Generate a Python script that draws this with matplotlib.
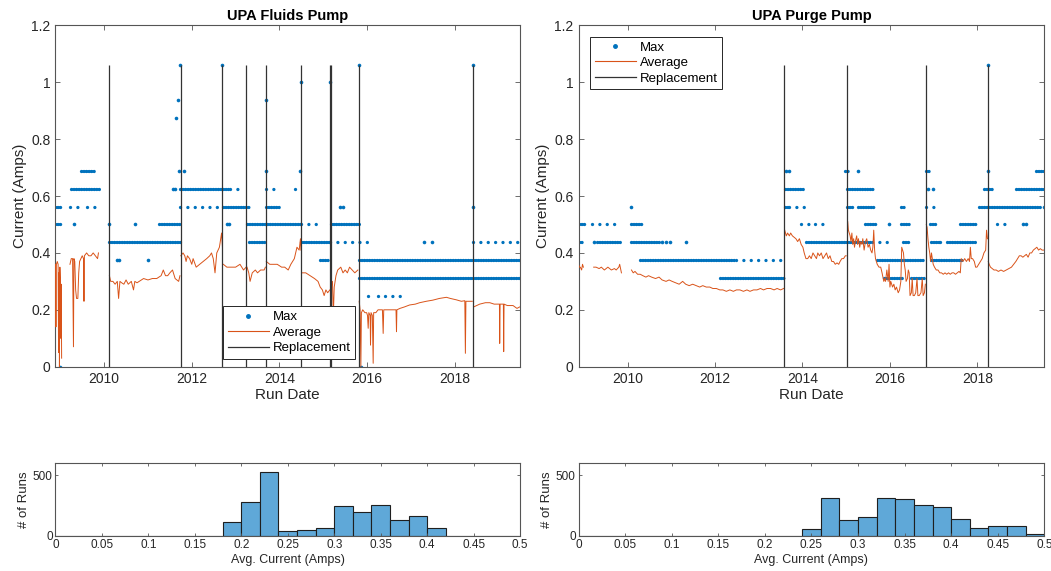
import matplotlib
matplotlib.use("Agg")
import matplotlib.pyplot as plt
from matplotlib.lines import Line2D

nan = float("nan")

BLUE = "#0072BD"
ORANGE = "#D95319"
REPL = "#333333"
AXC = "#262626"

plt.rcParams["font.family"] = ["Liberation Sans", "DejaVu Sans"]

# ---------------- UPA Fluids Pump ----------------
fluids_avg_t = [
    2008.89, 2008.90, 2008.91, 2008.93, 2008.95, 2008.96, 2008.97, 2008.98, 2008.99, 2009.00, 2009.01, 2009.02, 2009.03, nan,
    2009.22, 2009.25, 2009.28, 2009.30, 2009.31, 2009.33, 2009.35, 2009.37, 2009.40, 2009.42, 2009.44, 2009.47, 2009.50,
    2009.53, 2009.54, 2009.55, 2009.60, 2009.65, 2009.70, 2009.75, 2009.80, 2009.85, 2009.87, nan,
    2010.12, 2010.15, 2010.20, 2010.25, 2010.30, 2010.33, 2010.36, 2010.40, 2010.45, 2010.50, 2010.55, 2010.62, 2010.67,
    2010.70, 2010.75, 2010.80, 2010.90, 2011.00, 2011.10, 2011.20, 2011.30, 2011.35, 2011.40, 2011.45, 2011.50, 2011.56,
    2011.62, 2011.70, 2011.73, nan,
    2011.75, 2011.80, 2011.84, 2011.87, 2011.90, 2011.95, 2012.00, 2012.03, 2012.10, 2012.18, 2012.26, 2012.34, 2012.41,
    2012.45, 2012.49, 2012.53, 2012.57, 2012.63, 2012.68, 2012.70, nan,
    2012.72, 2012.80, 2012.90, 2013.00, 2013.10, 2013.18, 2013.24, nan,
    2013.26, 2013.30, 2013.33, 2013.38, 2013.45, 2013.50, 2013.57, 2013.65, 2013.68, nan,
    2013.70, 2013.78, 2013.86, 2013.95, 2014.05, 2014.12, 2014.20, 2014.26, 2014.34, 2014.40, 2014.45, 2014.48, 2014.49, nan,
    2014.51, 2014.60, 2014.70, 2014.80, 2014.88, 2014.93, 2014.98, 2015.02, 2015.06, 2015.10, 2015.15, nan,
    2015.18, 2015.21, 2015.23, 2015.25, 2015.29, 2015.33, 2015.40, 2015.45, 2015.50, 2015.55, 2015.60, 2015.66, 2015.72,
    2015.79, nan,
    2015.82, 2015.84, 2015.858, 2015.87, 2015.90, 2015.95, 2015.99, 2016.01, 2016.025, 2016.04, 2016.07, 2016.078, 2016.09,
    2016.12, 2016.139, 2016.15, 2016.20, 2016.25, 2016.29, 2016.35, 2016.367, 2016.38, 2016.45, 2016.52, 2016.60, 2016.66,
    2016.671, 2016.68, 2016.75, 2016.85, 2016.97, 2017.10, 2017.20, 2017.35, 2017.50, 2017.65, 2017.81, 2017.90, 2018.04,
    2018.15, 2018.23, 2018.243, 2018.255, 2018.30, 2018.38, 2018.40, nan,
    2018.43, 2018.50, 2018.57, 2018.70, 2018.80, 2018.90, 2019.02, 2019.026, 2019.035, 2019.11, 2019.117, 2019.125,
    2019.20, 2019.33, 2019.42, 2019.48,
]
fluids_avg_v = [
    0.36, 0.14, 0.36, 0.37, 0.36, 0.05, 0.33, 0.00, 0.35, 0.30, 0.10, 0.29, 0.03, nan,
    0.36, 0.38, 0.38, 0.07, 0.38, 0.37, 0.27, 0.24, 0.24, 0.33, 0.37, 0.38, 0.39,
    0.38, 0.23, 0.39, 0.40, 0.39, 0.39, 0.40, 0.39, 0.38, 0.40, nan,
    0.32, 0.30, 0.30, 0.29, 0.30, 0.24, 0.30, 0.295, 0.29, 0.305, 0.29, 0.30, 0.27,
    0.30, 0.295, 0.30, 0.31, 0.305, 0.31, 0.31, 0.32, 0.34, 0.32, 0.32, 0.33, 0.34,
    0.31, 0.30, 0.32, nan,
    0.39, 0.40, 0.39, 0.37, 0.39, 0.38, 0.36, 0.38, 0.35, 0.36, 0.37, 0.38, 0.39,
    0.40, 0.38, 0.33, 0.40, 0.42, 0.47, 0.42, nan,
    0.36, 0.35, 0.35, 0.35, 0.36, 0.34, 0.35, nan,
    0.35, 0.33, 0.30, 0.33, 0.34, 0.33, 0.34, 0.34, 0.35, nan,
    0.37, 0.36, 0.36, 0.36, 0.35, 0.35, 0.34, 0.36, 0.38, 0.42, 0.41, 0.45, 0.41, nan,
    0.33, 0.33, 0.32, 0.31, 0.30, 0.28, 0.27, 0.25, 0.27, 0.26, 0.27, nan,
    0.28, 0.30, 0.18, 0.28, 0.32, 0.34, 0.35, 0.33, 0.34, 0.33, 0.35, 0.34, 0.33,
    0.34, nan,
    0.23, 0.20, 0.00, 0.19, 0.20, 0.19, 0.19, 0.18, 0.135, 0.19, 0.18, 0.076, 0.19,
    0.18, 0.012, 0.19, 0.19, 0.20, 0.20, 0.20, 0.117, 0.20, 0.20, 0.20, 0.20, 0.20,
    0.123, 0.20, 0.205, 0.21, 0.217, 0.22, 0.225, 0.23, 0.234, 0.24, 0.244, 0.24, 0.235,
    0.23, 0.232, 0.047, 0.23, 0.23, 0.23, 0.23, nan,
    0.21, 0.215, 0.22, 0.225, 0.225, 0.22, 0.22, 0.082, 0.22, 0.22, 0.053, 0.22,
    0.215, 0.215, 0.205, 0.21,
]

# max current runs: (start, end, level); dense = every run logged, sparse = scattered runs
fluids_max_dense = [
    (2009.25, 2009.89, 0.625), (2011.72, 2012.88, 0.625),
    (2009.48, 2009.79, 0.6875),
    (2008.89, 2009.04, 0.5625), (2012.72, 2013.31, 0.5625), (2013.69, 2014.03, 0.5625),
    (2008.89, 2009.02, 0.5), (2011.25, 2011.72, 0.5), (2013.26, 2014.50, 0.5), (2015.18, 2015.82, 0.5),
    (2010.11, 2011.73, 0.4375), (2013.30, 2013.69, 0.4375), (2014.50, 2015.15, 0.4375),
    (2014.92, 2015.16, 0.375), (2015.82, 2019.49, 0.375),
    (2015.82, 2019.49, 0.3125),
]
fluids_max_sparse = [
    (2012.88, 2013.20, 0.625), (2013.69, 2013.97, 0.625), (2014.35, 2014.49, 0.625),
    (2009.21, 2009.52, 0.5625), (2009.62, 2009.87, 0.5625), (2011.74, 2012.72, 0.5625),
    (2014.50, 2014.89, 0.5),
    (2015.16, 2016.07, 0.4375), (2018.42, 2019.49, 0.4375),
    (2016.02, 2016.17, 0.25), (2016.25, 2016.33, 0.25), (2016.42, 2016.77, 0.25),
]
fluids_max_t = [2011.565, 2011.627, 2011.70, 2011.83, 2013.69, 2014.48, 2011.69, 2013.69, 2011.64,
                2011.72, 2012.68, 2015.81, 2018.42, 2014.50, 2015.16, 2015.39, 2015.44, 2018.42,
                2009.31, 2010.11, 2010.70, 2012.80, 2012.85, 2010.29, 2010.35, 2011.01, 2017.31, 2017.47,
                2008.99, 2015.87]
fluids_max_v = [0.625, 0.625, 0.6875, 0.6875, 0.6875, 0.6875, 0.9375, 0.9375, 0.875,
                1.0625, 1.0625, 1.0625, 1.0625, 1.0, 1.0, 0.5625, 0.5625, 0.5625,
                0.5, 0.5, 0.5, 0.5, 0.5, 0.375, 0.375, 0.375, 0.4375, 0.4375,
                0.0, 0.0]
fluids_replacements = [2010.114, 2011.743, 2012.70, 2013.247, 2013.687, 2014.497, 2015.153, 2015.168,
                       2015.81, 2018.417]

# ---------------- UPA Purge Pump ----------------
purge_avg_t = [
    2008.877, 2008.90, 2008.92, 2008.95, 2008.97, 2008.99, nan,
    2009.225, 2009.28, 2009.35, 2009.40, 2009.47, 2009.55, 2009.63, 2009.70, 2009.74, 2009.80, 2009.82, 2009.86, nan,
    2010.09, 2010.13, 2010.17, 2010.23, 2010.29, 2010.35, 2010.42, 2010.48, 2010.55, 2010.64, 2010.72, 2010.79,
    2010.88, 2010.95, 2011.02, 2011.10, 2011.18, 2011.26, 2011.33, 2011.41, 2011.49, 2011.57, 2011.65, 2011.72,
    2011.80, 2011.88, 2011.95, 2012.03, 2012.11, 2012.18, 2012.26, 2012.34, 2012.42, 2012.49, 2012.57, 2012.65,
    2012.73, 2012.80, 2012.88, 2012.96, 2013.04, 2013.11, 2013.19, 2013.27, 2013.35, 2013.42, 2013.50, 2013.57, nan,
    2013.594, 2013.63, 2013.66, 2013.70, 2013.73, 2013.77, 2013.81, 2013.85, 2013.89, 2013.93, 2013.97, 2014.01,
    2014.04, 2014.08, 2014.12, 2014.16, 2014.20, 2014.24, 2014.28, 2014.32, 2014.35, 2014.39, 2014.43, 2014.47,
    2014.51, 2014.55, 2014.59, 2014.63, 2014.67, 2014.71, 2014.75, 2014.79, 2014.83, 2014.86, 2014.90, 2014.94,
    2014.98, 2015.00, nan,
    2015.035, 2015.05, 2015.07, 2015.09, 2015.11, 2015.13, 2015.15, 2015.17, 2015.19, 2015.21, 2015.24, 2015.26,
    2015.28, 2015.31, 2015.33, 2015.36, 2015.38, 2015.41, 2015.44, 2015.47, 2015.50, 2015.53, 2015.56, 2015.59,
    2015.61, 2015.63, 2015.65, 2015.67, 2015.71, 2015.75, 2015.79, 2015.82, 2015.86, 2015.88, 2015.90, 2015.93,
    2015.96, 2015.98, 2016.00, 2016.02, 2016.06, 2016.09, 2016.12, 2016.15, 2016.19, 2016.22, 2016.25, 2016.27,
    2016.29, 2016.31, 2016.33, 2016.35, 2016.37, 2016.40, 2016.42, 2016.44, 2016.46, 2016.49, 2016.51, 2016.53,
    2016.56, 2016.59, 2016.62, 2016.64, 2016.67, 2016.71, 2016.74, 2016.76, 2016.79, 2016.81, nan,
    2016.832, 2016.85, 2016.87, 2016.89, 2016.91, 2016.93, 2016.95, 2016.97, 2016.99, 2017.02, 2017.06, 2017.10,
    2017.14, 2017.18, 2017.22, 2017.26, 2017.30, 2017.34, 2017.38, 2017.42, 2017.46, 2017.50, 2017.54, 2017.58,
    2017.61, 2017.63, 2017.67, 2017.71, 2017.75, 2017.79, 2017.82, 2017.84, 2017.86, 2017.89, 2017.93, 2017.96,
    2017.99, 2018.03, 2018.07, 2018.11, 2018.15, 2018.19, 2018.21, 2018.23, nan,
    2018.25, 2018.27, 2018.30, 2018.34, 2018.38, 2018.43, 2018.48, 2018.54, 2018.60, 2018.66, 2018.72, 2018.78,
    2018.83, 2018.88, 2018.92, 2018.96, 2019.00, 2019.04, 2019.08, 2019.12, 2019.16, 2019.20, 2019.24, 2019.28,
    2019.32, 2019.36, 2019.40, 2019.44, 2019.48, 2019.52,
]
purge_avg_v = [
    0.36, 0.35, 0.35, 0.34, 0.36, 0.35, nan,
    0.35, 0.35, 0.345, 0.35, 0.34, 0.35, 0.34, 0.345, 0.34, 0.35, 0.36, 0.33, nan,
    0.34, 0.33, 0.335, 0.325, 0.325, 0.32, 0.315, 0.32, 0.315, 0.31, 0.315, 0.305,
    0.30, 0.305, 0.30, 0.295, 0.29, 0.30, 0.29, 0.285, 0.29, 0.285, 0.28, 0.285,
    0.28, 0.28, 0.275, 0.275, 0.27, 0.27, 0.265, 0.27, 0.265, 0.27, 0.27, 0.265,
    0.27, 0.265, 0.27, 0.27, 0.275, 0.27, 0.275, 0.275, 0.27, 0.275, 0.27, 0.275, nan,
    0.48, 0.46, 0.47, 0.46, 0.47, 0.46, 0.455, 0.45, 0.44, 0.45, 0.43, 0.42,
    0.40, 0.38, 0.38, 0.39, 0.38, 0.40, 0.39, 0.38, 0.40, 0.39, 0.40, 0.38,
    0.39, 0.40, 0.38, 0.39, 0.37, 0.37, 0.36, 0.365, 0.36, 0.37, 0.38, 0.38,
    0.39, 0.39, nan,
    0.51, 0.48, 0.47, 0.46, 0.44, 0.47, 0.43, 0.45, 0.42, 0.44, 0.46, 0.43,
    0.45, 0.42, 0.44, 0.43, 0.45, 0.41, 0.44, 0.45, 0.42, 0.43, 0.41, 0.40,
    0.42, 0.48, 0.41, 0.38, 0.36, 0.35, 0.35, 0.33, 0.30, 0.31, 0.30, 0.34,
    0.30, 0.36, 0.28, 0.30, 0.28, 0.29, 0.27, 0.28, 0.26, 0.27, 0.30, 0.42,
    0.41, 0.40, 0.36, 0.34, 0.30, 0.31, 0.34, 0.33, 0.25, 0.26, 0.31, 0.25,
    0.25, 0.26, 0.31, 0.25, 0.25, 0.26, 0.31, 0.25, 0.26, 0.29, nan,
    0.50, 0.49, 0.45, 0.42, 0.40, 0.37, 0.40, 0.38, 0.36, 0.35, 0.34, 0.34,
    0.33, 0.33, 0.325, 0.33, 0.325, 0.33, 0.325, 0.33, 0.33, 0.325, 0.33, 0.335,
    0.33, 0.38, 0.37, 0.38, 0.37, 0.38, 0.37, 0.42, 0.38, 0.38, 0.37, 0.35,
    0.35, 0.36, 0.37, 0.38, 0.40, 0.41, 0.48, 0.45, nan,
    0.37, 0.36, 0.35, 0.345, 0.34, 0.34, 0.335, 0.34, 0.335, 0.34, 0.345, 0.35,
    0.36, 0.37, 0.38, 0.39, 0.39, 0.385, 0.39, 0.395, 0.385, 0.40, 0.40, 0.41,
    0.415, 0.42, 0.41, 0.415, 0.41, 0.41,
]
purge_max_dense = [
    (2008.88, 2009.05, 0.5), (2010.09, 2010.33, 0.5), (2015.43, 2015.70, 0.5), (2016.25, 2016.44, 0.5),
    (2016.91, 2017.06, 0.5), (2017.61, 2017.96, 0.5),
    (2008.88, 2009.01, 0.4375), (2009.30, 2009.86, 0.4375), (2010.09, 2010.71, 0.4375), (2014.08, 2015.01, 0.4375),
    (2015.01, 2015.60, 0.4375), (2016.29, 2016.44, 0.4375), (2016.95, 2017.15, 0.4375), (2017.30, 2017.95, 0.4375),
    (2010.29, 2012.49, 0.375), (2015.71, 2016.79, 0.375), (2016.95, 2017.64, 0.375),
    (2012.11, 2013.58, 0.3125), (2015.86, 2016.29, 0.3125), (2016.48, 2016.80, 0.3125),
    (2013.59, 2013.70, 0.5625), (2015.01, 2015.15, 0.5625), (2015.28, 2015.64, 0.5625), (2016.25, 2016.37, 0.5625),
    (2018.03, 2019.45, 0.5625),
    (2013.59, 2014.01, 0.625), (2015.01, 2015.63, 0.625), (2018.15, 2018.38, 0.625), (2018.89, 2019.53, 0.625),
    (2014.98, 2015.09, 0.6875), (2016.82, 2016.93, 0.6875), (2019.35, 2019.53, 0.6875),
]
purge_max_sparse = [
    (2009.19, 2009.86, 0.5), (2013.96, 2014.16, 0.5), (2014.28, 2014.55, 0.5), (2018.46, 2018.77, 0.5),
    (2015.60, 2016.06, 0.4375), (2017.15, 2017.30, 0.4375),
    (2012.49, 2013.54, 0.375),
    (2013.70, 2014.08, 0.5625), (2016.83, 2017.06, 0.5625),
]
purge_max_t = [2015.98, 2019.04, 2019.12, 2010.79, 2010.88, 2010.96, 2011.33, 2009.24, 2010.09,
               2016.87, 2016.99, 2013.62, 2013.70, 2015.28, 2018.234, 2018.234, 2019.52]
purge_max_v = [0.5, 0.5, 0.5, 0.4375, 0.4375, 0.4375, 0.4375, 0.4375, 0.5625,
               0.625, 0.625, 0.6875, 0.6875, 0.6875, 0.6875, 1.0625, 0.5625]
purge_replacements = [2013.586, 2015.012, 2016.816, 2018.234]

# ---------------- histograms of average current ----------------
bin_left = [0.00, 0.02, 0.04, 0.06, 0.08, 0.10, 0.12, 0.14, 0.16, 0.18, 0.20, 0.22, 0.24,
            0.26, 0.28, 0.30, 0.32, 0.34, 0.36, 0.38, 0.40, 0.42, 0.44, 0.46, 0.48]
fluids_counts = [3, 2, 2, 2, 3, 2, 2, 2, 4, 113, 282, 525, 42,
                 51, 65, 246, 195, 257, 133, 167, 68, 3, 2, 1, 0]
purge_counts = [0, 0, 0, 0, 0, 0, 0, 0, 0, 0, 0, 0, 60,
                309, 134, 158, 314, 303, 254, 235, 139, 68, 85, 82, 14]

year_ticks = [2010, 2012, 2014, 2016, 2018]


def style_axes(ax, labelsize):
    for s in ax.spines.values():
        s.set_color("#555555")
        s.set_linewidth(0.8)
    ax.tick_params(direction="in", top=True, right=True, length=3.5, width=0.6,
                   color="#555555", labelcolor=AXC, labelsize=labelsize)


def draw_runs(ax, runs, gap):
    for t0, t1, lvl in runs:
        ax.plot([t0, t1], [lvl, lvl], color=BLUE, lw=2.4, ls=(0, (0.01, gap)),
                dash_capstyle="round", zorder=2)


def draw_pump(ax, title, avg_t, avg_v, dense, sparse, max_t, max_v, repl, xlim):
    draw_runs(ax, dense, 0.75)
    draw_runs(ax, sparse, 2.2)
    ax.plot(max_t, max_v, ls="none", marker="o", ms=2.6, mew=0, color=BLUE, zorder=2)
    ax.plot(avg_t, avg_v, color=ORANGE, lw=0.7, zorder=3)
    ax.vlines(repl, 0, 1.0625, color=REPL, lw=0.9, zorder=4)
    ax.set_xlim(*xlim)
    ax.set_ylim(0, 1.2)
    ax.set_xticks(year_ticks)
    ax.set_xticklabels([str(y) for y in year_ticks])
    ax.set_yticks([0, 0.2, 0.4, 0.6, 0.8, 1.0, 1.2])
    ax.set_yticklabels(["0", "0.2", "0.4", "0.6", "0.8", "1", "1.2"])
    ax.set_title(title, fontsize=10.5, fontweight="bold", color="black", pad=4)
    ax.set_xlabel("Run Date", fontsize=11, color=AXC, labelpad=2)
    ax.set_ylabel("Current (Amps)", fontsize=11, color=AXC, labelpad=3)
    style_axes(ax, 10)


def legend_handles():
    return [Line2D([], [], ls="none", marker=".", ms=5, color=BLUE),
            Line2D([], [], color=ORANGE, lw=0.8),
            Line2D([], [], color=REPL, lw=0.9)]


def draw_hist(ax, counts):
    ax.bar(bin_left, counts, width=0.02, align="edge", color="#5FA8D8",
           edgecolor="#1f1f1f", linewidth=0.8)
    ax.set_xlim(0, 0.5)
    ax.set_ylim(0, 600)
    ticks = [0, 0.05, 0.1, 0.15, 0.2, 0.25, 0.3, 0.35, 0.4, 0.45, 0.5]
    ax.set_xticks(ticks)
    ax.set_xticklabels(["0" if t == 0 else f"{t:g}" for t in ticks])
    ax.set_yticks([0, 500])
    ax.set_xlabel("Avg. Current (Amps)", fontsize=9, color=AXC, labelpad=2)
    ax.set_ylabel("# of Runs", fontsize=9.5, color=AXC, labelpad=2)
    style_axes(ax, 8.5)
    ax.tick_params(length=2.5, pad=2)


fig = plt.figure(figsize=(10.51, 5.71), dpi=100)
ax1 = fig.add_axes([0.0528, 0.3578, 0.442, 0.5977])
ax2 = fig.add_axes([0.5505, 0.3578, 0.4431, 0.5977])
ax3 = fig.add_axes([0.0528, 0.0613, 0.442, 0.128])
ax4 = fig.add_axes([0.5505, 0.0613, 0.4431, 0.128])

draw_pump(ax1, "UPA Fluids Pump", fluids_avg_t, fluids_avg_v, fluids_max_dense, fluids_max_sparse,
          fluids_max_t, fluids_max_v, fluids_replacements, (2008.89, 2019.49))
draw_pump(ax2, "UPA Purge Pump", purge_avg_t, purge_avg_v, purge_max_dense, purge_max_sparse,
          purge_max_t, purge_max_v, purge_replacements, (2008.88, 2019.53))

labels = ["Max", "Average", "Replacement"]
for ax, loc, anchor in [(ax1, "lower left", (0.361, 0.023)), (ax2, "upper left", (0.025, 0.967))]:
    leg = ax.legend(legend_handles(), labels, loc=loc, bbox_to_anchor=anchor, fontsize=9.5,
                    fancybox=False, framealpha=1, edgecolor=AXC, borderaxespad=0,
                    handlelength=3.1, handletextpad=0.3, borderpad=0.35, labelspacing=0.25)
    leg.get_frame().set_linewidth(0.7)
    leg.set_zorder(10)

draw_hist(ax3, fluids_counts)
draw_hist(ax4, purge_counts)

fig.savefig("out.png", dpi=100)
